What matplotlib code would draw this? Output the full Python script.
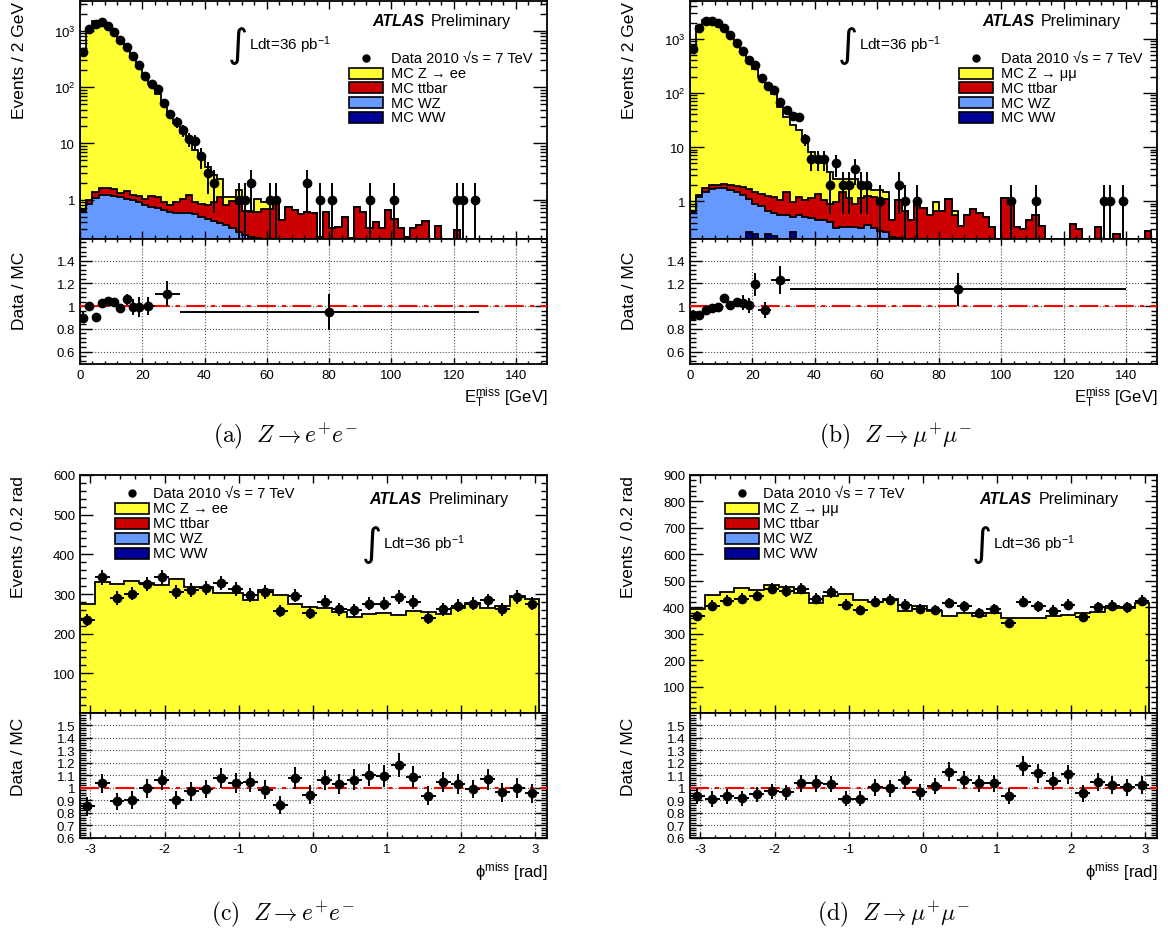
import numpy as np
import matplotlib
matplotlib.use("Agg")
import matplotlib.pyplot as plt
from matplotlib.patches import Rectangle
from matplotlib.ticker import (MultipleLocator, AutoMinorLocator, LogLocator,
                               FuncFormatter, NullFormatter)

plt.rcParams['font.family'] = ['Liberation Sans', 'DejaVu Sans']
plt.rcParams['mathtext.fontset'] = 'custom'
plt.rcParams['mathtext.rm'] = 'Liberation Sans'
plt.rcParams['mathtext.it'] = 'Liberation Sans:italic'
plt.rcParams['mathtext.bf'] = 'Liberation Sans:bold'
plt.rcParams['axes.unicode_minus'] = False

W, H = 1168, 929

YELLOW = '#ffff33'
RED = '#cc0000'
LBLUE = '#6699ff'
NAVY = '#000099'

# ---------------- missing ET, 2 GeV bins from 0 to 150 ----------------
# stack tops as drawn: total MC, ttbar+WZ+WW, WZ+WW, WW
ee_met_total = [475, 1070, 1477, 1398, 1165, 923, 697, 488, 360, 246,
                155, 115, 75, 50, 34, 23, 15.5, 11, 7.5, 5.5,
                3.8, 2.8, 2.3, 1.1, 1.1, 1.5, 0.64, 0.62, 1.04, 0.91,
                0.91, 1.04, 0.43, 0.73, 0.65, 0.55, 0.61, 0.58, 0.22, 0.61,
                0.31, 0.33, 0.5, 0.21, 0.73, 0.61, 0.31, 0.40, 0.31, 0.65,
                0.46, 0.31, 0.22, 0.31, 0.35, 0.41, 0, 0.34, 0, 0,
                0.29, 0, 0, 0, 0, 0, 0, 0, 0, 0,
                0, 0, 0, 0, 0]
ee_met_ttbar = [0.67, 0.97, 1.37, 1.63, 1.63, 1.52, 1.31, 1.4, 1.2, 1.15,
                1.04, 1.15, 1.1, 0.91, 0.79, 0.91, 1.04, 1.19, 0.91, 0.85,
                0.79, 0.91, 1.1, 0.79, 0.95, 0.85, 0.62, 0.6, 0.6, 0.68,
                0.68, 1.04, 0.43, 0.73, 0.65, 0.55, 0.61, 0.58, 0.22, 0.61,
                0.31, 0.33, 0.5, 0.21, 0.73, 0.61, 0.31, 0.40, 0.31, 0.65,
                0.46, 0.31, 0.22, 0.31, 0.35, 0.41, 0, 0.34, 0, 0,
                0.29, 0, 0, 0, 0, 0, 0, 0, 0, 0,
                0, 0, 0, 0, 0]
ee_met_wz = [0.62, 0.85, 1.07, 1.23, 1.2, 1.16, 1.11, 1.04, 1.0, 0.91,
             0.8, 0.75, 0.72, 0.66, 0.61, 0.58, 0.58, 0.59, 0.55, 0.5,
             0.46, 0.42, 0.39, 0.35, 0.31, 0.27, 0.24, 0.22, 0.21, 0,
             0, 0, 0, 0, 0, 0, 0, 0, 0, 0,
             0, 0, 0, 0, 0, 0, 0, 0, 0, 0,
             0, 0, 0, 0, 0, 0, 0, 0, 0, 0,
             0, 0, 0, 0, 0, 0, 0, 0, 0, 0,
             0, 0, 0, 0, 0]
ee_met_ww = [0] * 75

mm_met_total = [704, 1739, 2235, 2224, 1932, 1495, 1163, 815, 577, 403,
                276, 200, 136, 95, 55, 36, 26, 21, 14.6, 8,
                6, 5, 3.5, 2.6, 2.6, 2.6, 2.6, 2.0, 2.0, 1.6,
                1.6, 1.5, 0.45, 1.05, 0.65, 0.45, 0.97, 0.75, 0.55, 0.97,
                0.65, 1.1, 0.65, 0.35, 0.55, 0.72, 0.6, 0.52, 0.34, 0,
                1.15, 0.9, 0.34, 0.3, 0.45, 0.55, 0.35, 0, 0, 0,
                0, 0.38, 0.3, 0, 0, 0.33, 0, 0, 0.25, 0,
                0, 0, 0, 0.28, 0]
mm_met_ttbar = [0.67, 1.3, 1.76, 1.95, 2.0, 2.05, 1.95, 1.9, 1.8, 1.65,
                1.5, 1.35, 1.25, 1.2, 1.05, 1.5, 0.97, 1.2, 1.05, 1.15,
                1.35, 1.05, 0.9, 0.95, 1.45, 1.15, 0.87, 1.15, 1.25, 1.2,
                0.87, 1.1, 0.45, 1.05, 0.65, 0.45, 0.97, 0.75, 0.55, 0.65,
                0.65, 1.1, 0.55, 0.35, 0.55, 0.72, 0.6, 0.52, 0.34, 0,
                1.15, 0.9, 0.34, 0.3, 0.45, 0.55, 0.35, 0, 0, 0,
                0, 0.38, 0.3, 0, 0, 0.33, 0, 0, 0.25, 0,
                0, 0, 0, 0.28, 0]
mm_met_wz = [0.62, 1.2, 1.5, 1.7, 1.75, 1.75, 1.6, 1.45, 1.3, 1.1,
             0.9, 0.8, 0.67, 0.6, 0.55, 0.56, 0.52, 0.56, 0.5, 0.49,
             0.45, 0.44, 0.41, 0.32, 0.33, 0.34, 0.33, 0.32, 0.37, 0.32,
             0.28, 0.27, 0.22, 0.21, 0, 0, 0, 0, 0, 0,
             0, 0, 0, 0, 0, 0, 0, 0, 0, 0,
             0, 0, 0, 0, 0, 0, 0, 0, 0, 0,
             0, 0, 0, 0, 0, 0, 0, 0, 0, 0,
             0, 0, 0, 0, 0]
mm_met_ww = [0, 0, 0, 0, 0, 0, 0, 0, 0, 0.27,
             0.25, 0, 0.25, 0.23, 0, 0, 0.27, 0, 0, 0,
             0, 0, 0, 0, 0, 0, 0, 0, 0, 0,
             0, 0, 0, 0, 0, 0, 0, 0, 0, 0,
             0, 0, 0, 0, 0, 0, 0, 0, 0, 0,
             0, 0, 0, 0, 0, 0, 0, 0, 0, 0,
             0, 0, 0, 0, 0, 0, 0, 0, 0, 0,
             0, 0, 0, 0, 0]

# data (bin centre, events)
ee_met_x = [1, 3, 5, 7, 9, 11, 13, 15, 17, 19, 21, 23, 25, 27, 29, 31, 33, 35, 37, 39, 41, 43,
            51, 53, 55, 61, 63, 73, 77, 81, 93, 101, 121, 123, 127]
ee_met_n = [427, 1070, 1340, 1430, 1216, 955, 687, 516, 358, 245, 158, 113, 92, 52, 34, 24, 17, 12, 11, 6, 3, 2,
            1, 1, 2, 1, 1, 2, 1, 1, 1, 1, 1, 1, 1]
mm_met_x = [1, 3, 5, 7, 9, 11, 13, 15, 17, 19, 21, 23, 25, 27, 29, 31, 33, 35, 37, 39, 41, 43,
            45, 47, 49, 51, 53, 55, 57, 61, 67, 69, 73, 103, 111, 133, 135, 139]
mm_met_n = [646, 1600, 2150, 2180, 1920, 1600, 1170, 848, 594, 405, 328, 187, 137, 113, 67, 49, 37, 36, 14, 6, 6, 6,
            2, 5, 2, 2, 4, 2, 2, 1, 2, 1, 1, 1, 1, 1, 1, 1]

# data / MC with variable bins
ee_met_rx = [1, 3, 5, 7, 9, 11, 13, 15, 17, 19, 22, 28, 80]
ee_met_rxerr = [1, 1, 1, 1, 1, 1, 1, 1, 1, 1, 2, 4, 48]
ee_met_ry = [0.898, 1.0, 0.907, 1.023, 1.044, 1.035, 0.985, 1.058, 0.994, 0.994, 1.0, 1.108, 0.95]
ee_met_ryerr = [0.05, 0.03, 0.02, 0.02, 0.025, 0.025, 0.03, 0.05, 0.07, 0.09, 0.08, 0.11, 0.16]

mm_met_rx = [1, 3, 5, 7, 9, 11, 13, 15, 17, 19, 21, 24, 29, 86]
mm_met_rxerr = [1, 1, 1, 1, 1, 1, 1, 1, 1, 1, 1, 2, 3, 54]
mm_met_ry = [0.918, 0.92, 0.962, 0.98, 0.994, 1.07, 1.006, 1.04, 1.03, 1.006, 1.19, 0.965, 1.228, 1.146]
mm_met_ryerr = [0.05, 0.02, 0.02, 0.02, 0.02, 0.03, 0.04, 0.035, 0.065, 0.065, 0.105, 0.07, 0.125, 0.146]

# ---------------- phi of missing ET, 0.2 rad bins from -pi ----------------
ee_phi_n = [235, 342, 290, 301, 326, 342, 306, 309, 315, 328, 313, 298, 306, 257, 296, 253,
            281, 261, 259, 276, 276, 292, 280, 240, 261, 271, 276, 284, 261, 292, 276]
ee_phi_mc = [276, 330, 325, 333, 327, 322, 339, 318, 318, 303, 302, 285, 311, 298, 274, 267,
             264, 254, 243, 250, 252, 248, 257, 255, 249, 264, 278, 265, 271, 294, 288]
ee_phi_ratio = [0.853, 1.038, 0.893, 0.904, 0.996, 1.065, 0.904, 0.972, 0.991, 1.083, 1.036,
                1.044, 0.985, 0.864, 1.080, 0.946, 1.065, 1.030, 1.065, 1.102, 1.096, 1.181,
                1.088, 0.938, 1.049, 1.030, 0.991, 1.070, 0.964, 0.996, 0.956]
ee_phi_rerr = [0.075, 0.075, 0.07, 0.07, 0.075, 0.08, 0.07, 0.075, 0.075, 0.08, 0.08, 0.08,
               0.075, 0.07, 0.085, 0.075, 0.08, 0.08, 0.085, 0.09, 0.09, 0.095, 0.09, 0.075,
               0.08, 0.08, 0.075, 0.085, 0.075, 0.08, 0.075]

mm_phi_n = [368, 406, 425, 432, 444, 470, 461, 470, 432, 457, 409, 390, 421, 428, 409, 394,
            390, 416, 403, 378, 394, 339, 421, 403, 387, 409, 362, 400, 406, 400, 425]
mm_phi_mc = [394, 445, 456, 471, 467, 484, 478, 454, 417, 444, 449, 428, 419, 430, 384, 406,
             384, 368, 378, 365, 380, 361, 358, 361, 367, 369, 379, 381, 397, 398, 415]
mm_phi_ratio = [0.933, 0.912, 0.933, 0.917, 0.951, 0.972, 0.964, 1.036, 1.036, 1.030, 0.912,
                0.912, 1.004, 0.996, 1.065, 0.970, 1.017, 1.131, 1.065, 1.036, 1.036, 0.938,
                1.175, 1.117, 1.054, 1.110, 0.956, 1.049, 1.022, 1.004, 1.025]
mm_phi_rerr = [0.065, 0.065, 0.06, 0.06, 0.06, 0.06, 0.06, 0.065, 0.065, 0.065, 0.06, 0.06,
               0.065, 0.065, 0.07, 0.065, 0.065, 0.075, 0.07, 0.07, 0.07, 0.065, 0.08, 0.075,
               0.07, 0.075, 0.065, 0.07, 0.07, 0.07, 0.07]

met_edges = np.arange(0, 151, 2.0)
phi_edges = -np.pi + 0.2 * np.arange(32)
phi_centres = 0.5 * (phi_edges[1:] + phi_edges[:-1])


def place(l, t, r, b):
    return [l / W, 1 - b / H, (r - l) / W, (b - t) / H]


def style_axis(ax, ymaj, ymin, xmaj=4.5, xmin=2.3):
    ax.tick_params(which='both', direction='in', top=True, right=True, labelsize=9.5, width=1.0)
    ax.tick_params(axis='y', which='major', length=ymaj)
    ax.tick_params(axis='y', which='minor', length=ymin)
    ax.tick_params(axis='x', which='major', length=xmaj)
    ax.tick_params(axis='x', which='minor', length=xmin)
    for s in ax.spines.values():
        s.set_linewidth(1.3)


def draw_data(ax, x, n, xerr, log=False):
    n = np.asarray(n, float)
    err = np.sqrt(n)
    lo = np.minimum(err, n - 1e-3) if log else err
    ax.errorbar(x, n, yerr=[lo, err], xerr=xerr, fmt='o', color='black', ms=6,
                elinewidth=1.4, capsize=0, zorder=5)


def draw_ratio(ax, x, y, xerr, yerr):
    ax.axhline(1.0, color='red', lw=1.5, ls=(0, (9, 3, 2, 3)), zorder=3)
    ax.errorbar(x, y, yerr=yerr, xerr=xerr, fmt='o', color='black', ms=6,
                elinewidth=1.4, capsize=0, zorder=5)
    ax.grid(True, which='major', ls=':', color='0.3', lw=0.8)
    ax.set_axisbelow(True)
    ax.yaxis.set_major_formatter(FuncFormatter(lambda v, p: '%g' % round(v, 2)))


def draw_legend(ax, xb, xt, y0, dy, zlabel):
    bw, bh = 0.072, 0.046
    ax.plot([xb + bw / 2], [y0], 'o', color='black', ms=5, transform=ax.transAxes, clip_on=False)
    ax.text(xt, y0, 'Data 2010 \u221as = 7 TeV', transform=ax.transAxes, fontsize=10.5, va='center')
    entries = [(zlabel, YELLOW), ('MC ttbar', RED), ('MC WZ', LBLUE), ('MC WW', NAVY)]
    for k, (lab, col) in enumerate(entries):
        y = y0 - (k + 1) * dy
        ax.add_patch(Rectangle((xb, y - bh / 2), bw, bh, transform=ax.transAxes,
                               facecolor=col, edgecolor='black', lw=1.2, clip_on=False))
        ax.text(xt, y, lab, transform=ax.transAxes, fontsize=10.5, va='center')


def draw_labels(ax, xa, xp, ya, xl, yl):
    ax.text(xa, ya, 'ATLAS', transform=ax.transAxes, fontsize=11.5, fontweight='bold',
            fontstyle='italic', va='center')
    ax.text(xp, ya, 'Preliminary', transform=ax.transAxes, fontsize=11.5, va='center')
    # tall integral sign in front of the luminosity text
    ax.text(xl - 0.002, yl - 0.002, '\u222b', transform=ax.transAxes, fontsize=28,
            family='DejaVu Sans', va='center', ha='right')
    ax.text(xl, yl, 'Ldt=36 pb$^{-1}$', transform=ax.transAxes, fontsize=11, va='center')


def log_label(v, pos):
    if v == 1:
        return '1'
    if v == 10:
        return '10'
    return '10$^{%d}$' % round(np.log10(v))


def met_panel(l, r, total, ttbar, wz, ww, dx, dn, rx, rxerr, ry, ryerr, ymax, zlabel, cap):
    ax = fig.add_axes(place(l, 2, r, 240))
    rax = fig.add_axes(place(l, 240, r, 365), sharex=ax)
    base = 1e-3
    for vals, col in [(total, YELLOW), (ttbar, RED), (wz, LBLUE), (ww, NAVY)]:
        v = np.asarray(vals, float)
        v = np.where(v > 0, v, base)
        ax.stairs(v, met_edges, baseline=base, fill=True, facecolor=col,
                  edgecolor='black', lw=1.3)
    draw_data(ax, dx, dn, 1.0, log=True)
    ax.set_yscale('log')
    ax.set_ylim(0.2, ymax)
    ax.set_xlim(0, 150)
    ax.yaxis.set_major_locator(LogLocator(base=10, numticks=10))
    ax.yaxis.set_minor_locator(LogLocator(base=10, subs=np.arange(2, 10), numticks=20))
    ax.yaxis.set_major_formatter(FuncFormatter(log_label))
    ax.yaxis.set_minor_formatter(NullFormatter())
    ax.xaxis.set_major_locator(MultipleLocator(20))
    ax.xaxis.set_minor_locator(AutoMinorLocator(5))
    style_axis(ax, 10, 5, 6, 3)
    ax.tick_params(labelbottom=False)
    ax.set_ylabel('Events / 2 GeV', loc='top', fontsize=12.5)
    ax.yaxis.set_label_coords(-0.113, 1.0)
    draw_legend(ax, 0.576, 0.665, 0.759, 0.062, zlabel)
    draw_labels(ax, 0.627, 0.752, 0.92, 0.362, 0.819)

    draw_ratio(rax, rx, ry, rxerr, ryerr)
    rax.set_ylim(0.49, 1.59)
    rax.yaxis.set_major_locator(MultipleLocator(0.2))
    rax.yaxis.set_minor_locator(AutoMinorLocator(5))
    style_axis(rax, 8.5, 4.5)
    rax.set_ylabel('Data / MC', loc='top', fontsize=12.5)
    rax.yaxis.set_label_coords(-0.113, 0.905)
    rax.set_xlabel('E$_{\\rm T}^{\\rm miss}$ [GeV]', loc='right', fontsize=12, labelpad=3)
    fig.text((l + 205) / W, 1 - 436 / H, cap, math_fontfamily='cm', fontsize=17,
             ha='center', va='center')


def phi_panel(l, r, n, mc, ratio, rerr, ymax, zlabel, cap):
    ax = fig.add_axes(place(l, 476, r, 714))
    rax = fig.add_axes(place(l, 714, r, 839), sharex=ax)
    ax.stairs(mc, phi_edges, baseline=0, fill=True, facecolor=YELLOW, edgecolor='black', lw=1.3)
    draw_data(ax, phi_centres, n, 0.1)
    ax.set_ylim(0, ymax)
    ax.set_xlim(-np.pi, 3.16)
    ax.yaxis.set_major_locator(MultipleLocator(100))
    ax.yaxis.set_minor_locator(AutoMinorLocator(5))
    ax.yaxis.set_major_formatter(FuncFormatter(lambda v, p: '' if v == 0 else '%d' % v))
    ax.xaxis.set_major_locator(MultipleLocator(1))
    ax.xaxis.set_minor_locator(AutoMinorLocator(5))
    style_axis(ax, 9, 4.5, 6, 3)
    ax.tick_params(labelbottom=False)
    ax.set_ylabel('Events / 0.2 rad', loc='top', fontsize=12.5)
    ax.yaxis.set_label_coords(-0.115, 1.0)
    draw_legend(ax, 0.075, 0.156, 0.924, 0.063, zlabel)
    draw_labels(ax, 0.620, 0.746, 0.901, 0.648, 0.712)

    draw_ratio(rax, phi_centres, ratio, 0.1, rerr)
    rax.set_ylim(0.6, 1.599)
    rax.yaxis.set_major_locator(MultipleLocator(0.1))
    rax.yaxis.set_minor_locator(AutoMinorLocator(5))
    style_axis(rax, 8.5, 4.5)
    rax.set_ylabel('Data / MC', loc='top', fontsize=12.5)
    rax.yaxis.set_label_coords(-0.115, 0.97)
    rax.set_xlabel('\u03d5$^{\\rm miss}$ [rad]', loc='right', fontsize=12, labelpad=3)
    fig.text((l + 203) / W, 1 - 914 / H, cap, math_fontfamily='cm', fontsize=17,
             ha='center', va='center')


fig = plt.figure(figsize=(W / 100, H / 100), dpi=100)

met_panel(80, 547, ee_met_total, ee_met_ttbar, ee_met_wz, ee_met_ww,
          ee_met_x, ee_met_n, ee_met_rx, ee_met_rxerr, ee_met_ry, ee_met_ryerr,
          3400, 'MC Z \u2192 ee', r'$\mathrm{(a)}\ \ Z \rightarrow e^{+}e^{-}$')
met_panel(690, 1157, mm_met_total, mm_met_ttbar, mm_met_wz, mm_met_ww,
          mm_met_x, mm_met_n, mm_met_rx, mm_met_rxerr, mm_met_ry, mm_met_ryerr,
          5000, 'MC Z \u2192 \u03bc\u03bc', r'$\mathrm{(b)}\ \ Z \rightarrow \mu^{+}\mu^{-}$')
phi_panel(80, 547, ee_phi_n, ee_phi_mc, ee_phi_ratio, ee_phi_rerr, 600,
          'MC Z \u2192 ee', r'$\mathrm{(c)}\ \ Z \rightarrow e^{+}e^{-}$')
phi_panel(690, 1157, mm_phi_n, mm_phi_mc, mm_phi_ratio, mm_phi_rerr, 900,
          'MC Z \u2192 \u03bc\u03bc', r'$\mathrm{(d)}\ \ Z \rightarrow \mu^{+}\mu^{-}$')

fig.savefig('out.png', dpi=100)
